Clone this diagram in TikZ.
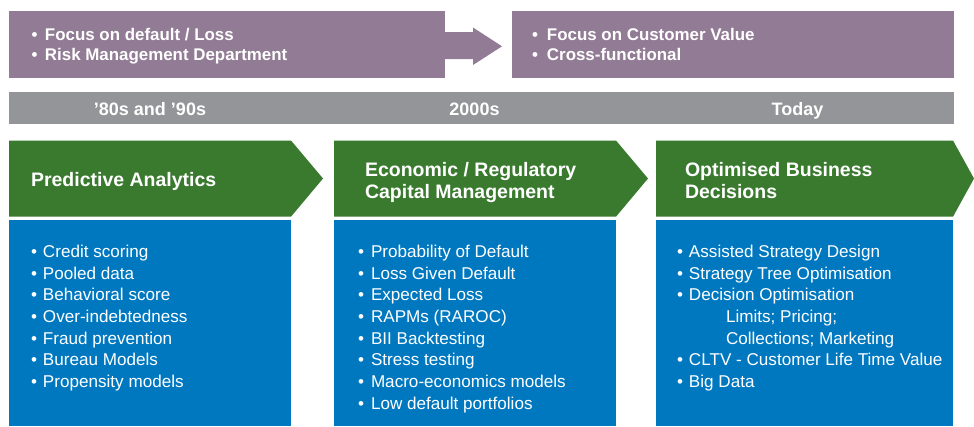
\documentclass[tikz,border=0pt]{standalone}
\usepackage{fontspec}
\setmainfont{Liberation Sans}
\definecolor{plum}{RGB}{146,123,149}
\definecolor{bargrey}{RGB}{148,149,152}
\definecolor{leafgreen}{RGB}{57,122,46}
\definecolor{oceanblue}{RGB}{0,120,192}
\newcommand{\itembullet}[1]{\makebox[#1][l]{•}}
\begin{document}
\begin{tikzpicture}[x=1pt,y=-1pt,
  txt/.style={anchor=base west, inner sep=0pt, outer sep=0pt, text=white},
  item/.style={txt, font=\fontsize{17.1}{20}\selectfont},
  head/.style={txt, font=\fontsize{16.9}{20}\selectfont\bfseries},
  ttl/.style={txt, font=\fontsize{19.5}{22}\selectfont\bfseries},
  era/.style={anchor=base, inner sep=0pt, text=white, font=\fontsize{18}{20}\selectfont\bfseries},
  panel/.style={fill=#1, draw=none}]
\useasboundingbox (0,0) rectangle (974,426);

% --- top band: focus of each era and the arrow between them
\fill[panel=plum] (9,11) rectangle (445,78);
\fill[panel=plum] (512,11) rectangle (954,78);
\fill[panel=plum] (445,32) -- (473,32) -- (473,27.5) -- (502,46.3) -- (473,65)
  -- (473,59) -- (445,59) -- cycle;
\node[head] (f1) at (31.7,40) {\itembullet{13.3pt}Focus on default / Loss};
\node[head] (f2) at (31.7,60.8) {\itembullet{13.3pt}Risk Management Department};
\node[head] (f3) at (532,40) {\itembullet{15pt}Focus on Customer Value};
\node[head] (f4) at (532,60.8) {\itembullet{15pt}Cross-functional};

% --- timeline bar
\fill[panel=bargrey] (9,92) rectangle (954,123.5);
\node[era] (t1) at (150,115.5) {’80s and ’90s};
\node[era] (t2) at (474.5,115.5) {2000s};
\node[era] (t3) at (797.5,115.5) {Today};

% --- green chevrons
\fill[panel=leafgreen] (9,140.5) -- (291,140.5) -- (323,178.5) -- (291,216.7) -- (9,216.7) -- cycle;
\fill[panel=leafgreen] (334,140.5) -- (616,140.5) -- (648,178.5) -- (616,216.7) -- (334,216.7) -- cycle;
\fill[panel=leafgreen] (656,140.5) -- (953,140.5) -- (974,178.5) -- (953,216.7) -- (656,216.7) -- cycle;
\node[ttl] (h1) at (31,186) {Predictive Analytics};
\node[ttl] (h2a) at (365,176) {Economic / Regulatory};
\node[ttl] (h2b) at (365,198) {Capital Management};
\node[ttl] (h3a) at (685,176) {Optimised Business};
\node[ttl] (h3b) at (685,198) {Decisions};

% --- blue content panels
\fill[panel=oceanblue] (9,219.5) rectangle (291,426);
\fill[panel=oceanblue] (334,219.5) rectangle (615.5,426);
\fill[panel=oceanblue] (656,219.5) rectangle (953,426);

\foreach \t [count=\i from 0] in {Credit scoring, Pooled data, Behavioral score,
    Over-indebtedness, Fraud prevention, Bureau Models, Propensity models}
  \node[item] (pa\i) at (31,257.5+21.65*\i) {\itembullet{12pt}\t};

\foreach \t [count=\i from 0] in {Probability of Default, Loss Given Default,
    Expected Loss, RAPMs (RAROC), BII Backtesting, Stress testing,
    Macro-economics models, Low default portfolios}
  \node[item] (rc\i) at (358,257.5+21.65*\i) {\itembullet{13pt}\t};

\node[item] (bd0) at (677,257.5) {\itembullet{12pt}Assisted Strategy Design};
\node[item] (bd1) at (677,279.15) {\itembullet{12pt}Strategy Tree Optimisation};
\node[item] (bd2) at (677,300.8) {\itembullet{12pt}Decision Optimisation};
\node[item] (bd3) at (726,322.45) {Limits; Pricing;};
\node[item] (bd4) at (726,344.1) {Collections; Marketing};
\node[item] (bd5) at (677,365.75) {\itembullet{12pt}CLTV - Customer Life Time Value};
\node[item] (bd6) at (677,387.4) {\itembullet{12pt}Big Data};
\end{tikzpicture}
\end{document}
